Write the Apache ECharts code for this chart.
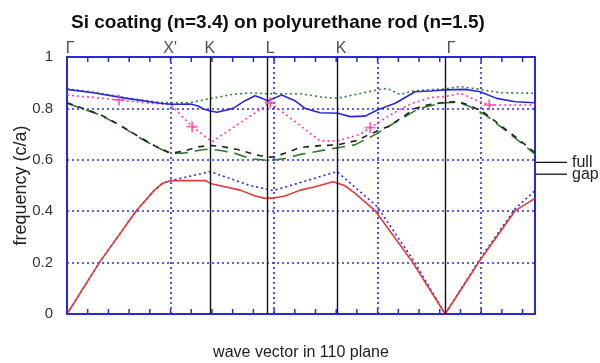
<!DOCTYPE html>
<html><head><meta charset="utf-8">
<script src="https://cdn.jsdelivr.net/npm/echarts@6/dist/echarts.min.js"></script>
<style>html,body{margin:0;padding:0;background:#fff}#c{width:600px;height:363px}</style>
</head><body><div id="c"></div>
<script>
// ---- data (x in tick units along the k-path, y = frequency c/a) ----
const xMax = 22.6;
const xTickStep = 1;
const symLineX = [6.91, 9.66, 13.05, 18.26];
const topLabels = ['\u0393', "X'", 'K', 'L', 'K', '\u0393', 'L'];
const topLabelX = [0.15, 4.98, 6.9, 9.81, 13.24, 18.55, 22.65];

const band1X = [0,1.56,3.33,4.2,4.6,5,6.7,6.91,8.36,9.08,9.57,10.05,10.53,11.26,11.98,12.85,13.4,13.9,14.9,16.7,18.26,19.95,21.64,22.6];
const band1Y = [0,0.2,0.4,0.48,0.508,0.519,0.519,0.508,0.482,0.459,0.45,0.452,0.459,0.482,0.495,0.515,0.5,0.47,0.4,0.2,0,0.21,0.402,0.45];

const band2X = [0,1.56,3.33,4.2,4.6,5,6.91,8.84,9.95,13.04,14.98,16.8,18.26,19.95,21.64,22.6];
const band2Y = [0,0.2,0.4,0.48,0.508,0.519,0.554,0.5,0.48,0.554,0.418,0.2,0,0.215,0.41,0.48];

const band3X = [0,1.59,2.56,3.53,4.25,5,5.7,6.3,6.91,7.49,8.36,9.1,9.66,10.05,10.5,11.26,12.2,13.04,14.0,14.6,15.6,16.8,17.5,18.26,18.9,19.5,20.2,21.0,21.8,22.6];
const band3Y = [0.822,0.777,0.735,0.687,0.654,0.626,0.635,0.65,0.656,0.652,0.638,0.62,0.61,0.612,0.625,0.648,0.655,0.658,0.675,0.699,0.733,0.8,0.815,0.824,0.826,0.81,0.78,0.73,0.68,0.628];

const band4X = [0,1.59,2.56,3.53,4.25,5,5.7,6.4,6.91,7.5,8.1,8.9,9.81,10.53,11.26,12.7,13.9,14.9,15.9,17.0,17.8,18.26,18.9,19.5,20.2,21.0,21.8,22.6];
const band4Y = [0.82,0.775,0.733,0.685,0.652,0.624,0.627,0.637,0.642,0.635,0.625,0.604,0.597,0.605,0.621,0.642,0.658,0.699,0.748,0.8,0.815,0.822,0.824,0.805,0.775,0.725,0.675,0.622];

const band5X = [0,2.51,4.0,5,6.04,7.0,9.81,12.22,13.04,14.15,14.64,15.6,16.57,17.54,18.26,18.99,19.95,20.39,22.6];
const band5Y = [0.852,0.833,0.82,0.815,0.73,0.67,0.822,0.674,0.673,0.699,0.725,0.774,0.817,0.842,0.846,0.859,0.826,0.813,0.813];

const plusX = [2.51,6.04,9.81,14.64,20.39];
const plusY = [0.833,0.729,0.822,0.725,0.813];

const band6X = [0,1.27,2.88,4.49,5,5.94,6.3,6.6,6.91,7.25,8.02,8.6,9.08,9.4,9.7,10.0,10.37,11.0,11.5,12.22,13.09,13.67,14.4,14.98,15.85,16.81,17.54,18.26,19.23,19.95,20.75,21.64,22.6];
const band6Y = [0.874,0.861,0.839,0.82,0.816,0.817,0.81,0.798,0.79,0.785,0.8,0.83,0.849,0.84,0.829,0.84,0.852,0.83,0.8,0.783,0.781,0.768,0.77,0.794,0.82,0.865,0.868,0.872,0.874,0.865,0.839,0.826,0.822];

const band7X = [0,1.27,2.88,4.49,5,5.94,6.91,8.02,8.84,9.66,10.5,11.26,12.22,13.04,14.98,15.45,16.09,16.7,17.54,18.26,18.99,19.95,20.92,22.6];
const band7Y = [0.876,0.863,0.841,0.823,0.822,0.822,0.838,0.855,0.86,0.857,0.857,0.857,0.845,0.839,0.872,0.878,0.854,0.868,0.873,0.876,0.885,0.874,0.861,0.859];

const gapNames = ['full', 'gap'];
const gapValues = [0.59, 0.544];

// ---- chart ----
const pairs = (X, Y) => X.map((x, i) => [x, Y[i]]);
const BLUE = '#2a2ad4';
const FONT = 'Liberation Sans, Arial, sans-serif';
const chart = echarts.init(document.getElementById('c'), null, {renderer: 'canvas'});

function band(data, color, type, width, z) {
  return {type: 'line', data, xAxisIndex: 0, yAxisIndex: 0, showSymbol: false, symbol: 'none',
    lineStyle: {color, width: width || 1.5, type}, z: z || 3, silent: true};
}

// tick positions along the x axis (every tick step up to the axis max)
const tickVals = [];
for (let v = 0; v <= xMax + 1e-9; v += xTickStep) tickVals.push(v);

const series = [
  {type: 'line', data: [], xAxisIndex: 0, yAxisIndex: 0, silent: true,
   markLine: {symbol: 'none', silent: true, label: {show: false},
     lineStyle: {color: '#111', width: 1.4, type: 'solid'},
     data: symLineX.map(x => ({xAxis: x}))}},
  band(pairs(band2X, band2Y), BLUE, [2, 3], 1.6, 3),
  band(pairs(band1X, band1Y), '#e03a3a', 'solid', 1.6, 4),
  band(pairs(band7X, band7Y), '#2e7d2e', [2, 3], 1.6, 3),
  band(pairs(band6X, band6Y), BLUE, 'solid', 1.6, 4),
  band(pairs(band4X, band4Y), '#2e7d2e', [13, 7], 1.6, 3),
  band(pairs(band3X, band3Y), '#222', [6, 6], 1.6, 3),
  band(pairs(band5X, band5Y), '#ff3d9a', [2, 3], 1.6, 3),
  {type: 'scatter', data: pairs(plusX, plusY), xAxisIndex: 0, yAxisIndex: 0, silent: true, z: 5,
   symbol: 'path://M4.2,0 L5.8,0 L5.8,4.2 L10,4.2 L10,5.8 L5.8,5.8 L5.8,10 L4.2,10 L4.2,5.8 L0,5.8 L0,4.2 L4.2,4.2 Z',
   symbolSize: 11, itemStyle: {color: '#ff3d9a'}},
  {type: 'scatter', data: topLabelX.map((x, i) => ({value: [x, 1], label: {formatter: topLabels[i]}})),
   xAxisIndex: 0, yAxisIndex: 0, symbolSize: 0, silent: true,
   label: {show: true, position: 'top', distance: 0, color: '#222', fontSize: 16, fontFamily: FONT}},
  // inward tick marks on bottom and top frame, placed through the axis scale
  {type: 'custom', xAxisIndex: 0, yAxisIndex: 0, silent: true, clip: false, z: 6,
   data: tickVals.map(v => [v, 0]),
   encode: {x: 0, y: 1},
   renderItem: (params, api) => {
     const b = api.coord([api.value(0), 0]);
     const t = api.coord([api.value(0), 1]);
     const st = {stroke: BLUE, lineWidth: 1.5};
     return {type: 'group', children: [
       {type: 'line', shape: {x1: b[0], y1: b[1], x2: b[0], y2: b[1] - 5}, style: st},
       {type: 'line', shape: {x1: t[0], y1: t[1], x2: t[0], y2: t[1] + 5}, style: st}
     ]};
   }}
];

const frameAxis = (pos) => ({type: 'value', min: 0, max: xMax, interval: xTickStep, position: pos,
  axisLine: {show: true, onZero: false, lineStyle: {color: BLUE, width: 2}},
  axisTick: {show: false}, axisLabel: {show: false}, splitLine: {show: false}});

chart.setOption({
  animation: false,
  backgroundColor: '#fff',
  title: {text: 'Si coating (n=3.4) on polyurethane rod (n=1.5)', left: 66, top: 8,
    textStyle: {fontSize: 19, fontWeight: 'bold', color: '#111', fontFamily: FONT}},
  grid: {left: 67, right: 65, top: 57, bottom: 49, containLabel: false, outerBoundsMode: 'none'},
  xAxis: [
    Object.assign(frameAxis('bottom'), {name: 'wave vector in 110 plane', nameLocation: 'middle', nameGap: 31,
      nameMoveOverlap: false,
      nameTextStyle: {fontSize: 16, color: '#222', fontFamily: FONT}}),
    frameAxis('top'),
    {type: 'value', min: 0, max: xMax, interval: 5, position: 'bottom',
     axisLine: {show: false}, axisTick: {show: false}, axisLabel: {show: false},
     splitLine: {show: true, lineStyle: {color: BLUE, width: 1.6, type: [2, 3]}}}
  ],
  yAxis: [
    {type: 'value', min: 0, max: 1, interval: 0.2, position: 'left',
     name: 'frequency (c/a)', nameLocation: 'middle', nameGap: 37, nameRotate: 90, nameMoveOverlap: false,
     nameTextStyle: {fontSize: 18, color: '#222', fontFamily: FONT},
     axisLine: {show: true, onZero: false, lineStyle: {color: BLUE, width: 2}},
     axisTick: {show: false},
     axisLabel: {fontSize: 15, color: '#333', margin: 14, fontFamily: FONT},
     splitLine: {show: true, lineStyle: {color: BLUE, width: 1.6, type: [2, 3]}}},
    {type: 'value', min: 0, max: 1, interval: 0.2, position: 'right',
     axisLine: {show: true, onZero: false, lineStyle: {color: BLUE, width: 2}},
     axisTick: {show: false}, axisLabel: {show: false}, splitLine: {show: false}}
  ],
  series
});

// "full" / "gap" edge markers just outside the right axis, positioned through the axes' scales
const gfx = [];
gapNames.forEach((n, i) => {
  const p = chart.convertToPixel({xAxisIndex: 0, yAxisIndex: 0}, [xMax, gapValues[i]]);
  gfx.push({type: 'line', shape: {x1: p[0], y1: p[1], x2: p[0] + 32, y2: p[1]},
    style: {stroke: '#111', lineWidth: 1.3}, silent: true});
  gfx.push({type: 'text', x: p[0] + 37, y: p[1],
    style: {text: n, fill: '#222', fontSize: 16, fontFamily: FONT, verticalAlign: 'middle', align: 'left'}, silent: true});
});
chart.setOption({graphic: gfx});
</script>
</body></html>
